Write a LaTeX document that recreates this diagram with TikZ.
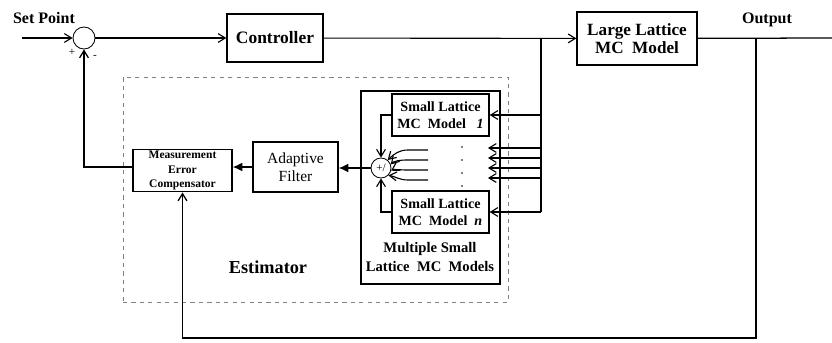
\documentclass[tikz,border=0pt]{standalone}
\usepackage{fontspec}
\setmainfont{Liberation Serif}
\usetikzlibrary{arrows.meta,positioning,calc}

\begin{document}
\begin{tikzpicture}[x=0.025cm, y=-0.025cm, every node/.style={font=\bfseries\fontsize{10}{12}\selectfont}]
\tikzset{box/.style={draw, line width=0.9pt, align=center, inner sep=1pt}}
\tikzset{frame/.style={draw, line width=0.9pt, inner sep=0pt}}
\tikzset{sumnode/.style={draw, circle, line width=0.6pt, inner sep=0pt}}
\tikzset{arrow/.style={-{Straight Barb[length=1.8mm,width=2.2mm]}, line width=0.8pt}}
\tikzset{fatarrow/.style={-{Latex[length=2.4mm,width=2.2mm]}, line width=0.9pt}}
\tikzset{line/.style={line width=0.9pt}}
\useasboundingbox (0,0) rectangle (832,342);
\node[frame, draw=gray, dashed, line width=0.4pt, minimum width=9.625cm, minimum height=5.625cm] (est) at (315.5,189.5) {};
\node[frame, minimum width=3.475cm, minimum height=4.825cm] (ms) at (430.5,187.5) {};
\node[sumnode, minimum size=0.55cm] (sum) at (84,38) {};
\node[box, minimum width=2.4cm, minimum height=1.2cm, font=\bfseries\fontsize{12.4}{14}\selectfont] (ctrl) at (275,38) {Controller};
\node[box, minimum width=3cm, minimum height=1.325cm, font=\bfseries\fontsize{12.2}{13}\selectfont] (large) at (637,38.5) {Large Lattice\\MC\ \ Model};
\node[box, minimum width=2.425cm, minimum height=1.05cm] (sl1) at (440.5,115) {Small Lattice\\MC\ \ Model\ \ \ \textit{1}};
\node[box, minimum width=2.425cm, minimum height=1.05cm] (sln) at (440.5,212) {Small Lattice\\MC\ \ Model\ \ \textit{n}};
\node[sumnode, minimum size=0.5cm, font=\normalfont\fontsize{8}{9}\selectfont] (sum2) at (381,168) {+/};
\node[box, minimum width=2.125cm, minimum height=1.25cm, font=\normalfont\fontsize{11}{13}\selectfont] (af) at (295.5,167) {Adaptive\\Filter};
\node[box, minimum width=2.475cm, minimum height=1.025cm, font=\bfseries\fontsize{8.2}{10.6}\selectfont] (mec) at (182.5,170.5) {Measurement\\Error\\Compensator};
\node[font=\bfseries\fontsize{11.4}{13}\selectfont] (setpt) at (44,18) {Set Point};
\node[font=\bfseries\fontsize{11.4}{13}\selectfont] (outlbl) at (767,20) {Output};
\node[font=\normalfont\fontsize{8}{9}\selectfont] (plus) at (72,52) {+};
\node[font=\normalfont\fontsize{8}{9}\selectfont] (minus) at (95,57) {-};
\node[font=\bfseries\fontsize{13}{15}\selectfont] (estlbl) at (268,267) {Estimator};
\node[align=center, font=\bfseries\fontsize{10.4}{14}\selectfont] (mslbl) at (430,257) {Multiple Small\\Lattice\ \ MC\ \ Models};
\foreach \y in {147,160,173,186} \fill (462,\y) circle (0.6pt);
\coordinate (in) at (22,38);
\coordinate (out) at (832,38);
\coordinate (tap) at (541,38);
\coordinate (fb) at (756,38);
\coordinate (fbb) at (756,338);
\draw[arrow] (in) -- (sum);
\draw[arrow] (sum) -- (ctrl);
\draw[arrow] (ctrl) -- (large);
\draw[line] (large) -- (out);
\draw[line] (tap) -- (tap |- sln.east);
\draw[arrow] (tap |- sl1.east) -- (sl1.east);
\draw[arrow] (tap |- sln.east) -- (sln.east);
\foreach \y/\i in {148/1,158/2,168/3,178/4} {
  \coordinate (r\i) at (541,\y);
  \coordinate (t\i) at (488,\y);
  \draw[arrow] (r\i) -- (t\i);
}
\draw[arrow] (sl1.west) -| (sum2.north);
\draw[arrow] (sln.west) -| (sum2.south);
\foreach \y/\a/\d in {150/50/4, 160/20/1, 170/-15/-1, 180/-45/-4} {
  \coordinate (s) at (428,\y);
  \draw[arrow] (s) -- (408,\y) .. controls (399,\y) and (394,\y+\d) .. (sum2.\a);
}
\draw[fatarrow] (sum2.west) -- (sum2.west -| af.east);
\draw[fatarrow] (af.west) -- (af.west -| mec.east);
\draw[arrow, line width=0.9pt] (mec.west |- af.west) -| (sum.south);
\draw[arrow, line width=0.9pt] (fb) -- (fbb) -| (mec.south);
\end{tikzpicture}
\end{document}
